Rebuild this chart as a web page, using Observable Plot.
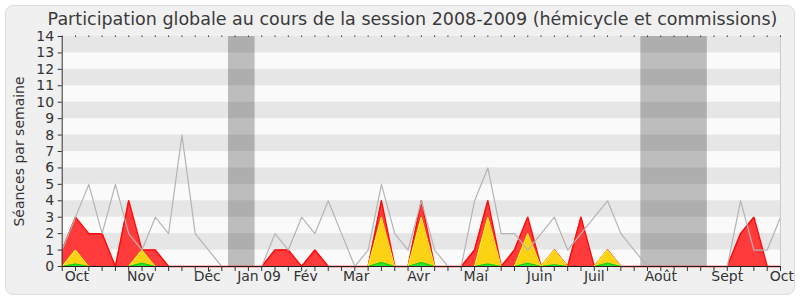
<!DOCTYPE html>
<html>
<head>
<meta charset="utf-8">
<script src="https://cdn.jsdelivr.net/npm/d3@7"></script>
<script src="https://cdn.jsdelivr.net/npm/@observablehq/plot@0.6"></script>
<style>
  html, body { margin: 0; padding: 0; background: #ffffff; }
  #wrap { position: relative; width: 800px; height: 300px; overflow: hidden; }
  #panel { position: absolute; left: 5px; top: 5px; width: 788px; height: 288px;
           background: #f0f0f0; border: 1px solid #dcdcdc; border-radius: 8px; }
  #title { position: absolute; left: 0; top: 0; width: 825px; height: 30px;
           text-align: center; font-family: "DejaVu Sans", sans-serif;
           font-size: 17.5px; line-height: 30px; color: #3a3a3a; padding-top: 4px; box-sizing: border-box; white-space: nowrap; }
  #chart { position: absolute; left: 0; top: 20px; }
  #chart svg { font-family: "DejaVu Sans", sans-serif; }
</style>
</head>
<body>
<div id="wrap">
  <div id="panel"></div>
  <div id="title">Participation globale au cours de la session 2008-2009 (hémicycle et commissions)</div>
  <div id="chart"></div>
</div>
<script>
// Weekly values, week 0 = first week of October 2008 ... week 54
const red    = [1,3,2,2,0,4,1,1,0,0,0,0,0,0,0,0,1,1,0,1,0,0,0,0,4,0,0,4,0,0,0,1,4,0,1,3,0,1,0,3,0,1,0,0,0,0,0,0,0,0,0,2,3,0,0];
const yellow = [0,1,0,0,0,0,1,0,0,0,0,0,0,0,0,0,0,0,0,0,0,0,0,0,3,0,0,3,0,0,0,0,3,0,0,2,0,1,0,0,0,1,0,0,0,0,0,0,0,0,0,0,0,0,0];
const green  = [0,0.15,0,0,0,0,0.2,0,0,0,0,0,0,0,0,0,0,0,0,0,0,0,0,0,0.25,0,0,0.25,0,0,0,0,0.15,0,0,0.2,0,0.1,0,0,0,0.2,0,0,0,0,0,0,0,0,0,0,0,0,0];
const median = [1,3,5,2,5,2,1,3,2,8,2,1,0,null,null,0,2,1,3,2,4,2,0,1,5,2,1,4,1,0,0,4,6,2,2,1,2,3,1,2,3,4,2,1,0,null,null,null,null,null,0,4,1,1,3];

// Vacation periods (in week units)
const vacStart = [12.5, 43.5];
const vacEnd   = [14.5, 48.5];

// Axis labels
const yTicks = [0,1,2,3,4,5,6,7,8,9,10,11,12,13,14];
const monthLabels = ["Oct","Nov","Déc","Jan 09","Fév","Mar","Avr","Mai","Juin","Juil","Août","Sept","Oct"];
const monthPos    = [1.1, 5.9, 10.9, 14.8, 18.3, 22.1, 26.8, 31.1, 35.9, 40.0, 45.0, 50.0, 54.1];

const weeks = red.map((_, i) => i);
const rows = weeks.map(i => ({i, red: red[i], yellow: yellow[i], green: green[i], median: median[i]}));
const stripes = yTicks.filter(k => k % 2 === 1).map(k => ({y1: k, y2: k + 1}));
const vacs = vacStart.map((s, k) => ({x1: s, x2: vacEnd[k]}));

const chart = Plot.plot({
  width: 800,
  height: 280,
  marginTop: 16,
  marginBottom: 34,
  marginLeft: 61.7,
  marginRight: 20,
  style: {background: "transparent", fontSize: "14px", color: "#333"},
  x: {domain: [0, weeks[weeks.length - 1]]},
  y: {domain: [0, 14]},
  marks: [
    Plot.frame({fill: "#fafafa", stroke: null}),
    Plot.rectY(stripes, {y1: "y1", y2: "y2", x1: 0, x2: weeks[weeks.length - 1], fill: "#e6e6e6", inset: 0}),
    Plot.rectY(vacs, {x1: "x1", x2: "x2", y1: 0, y2: 14, fill: "#000", fillOpacity: 0.245, inset: 0}),
    Plot.areaY(rows, {x: "i", y: "red", fill: "#ff3b3b"}),
    Plot.lineY(rows, {x: "i", y: "red", stroke: "#ff0d0d", strokeWidth: 1.5}),
    Plot.areaY(rows, {x: "i", y: "yellow", fill: "#fcd214"}),
    Plot.lineY(rows, {x: "i", y: "yellow", stroke: "#fff02a", strokeWidth: 1}),
    Plot.areaY(rows, {x: "i", y: "green", fill: "#2fe02f"}),
    Plot.lineY(rows, {x: "i", y: "green", stroke: "#10d010", strokeWidth: 1}),
    Plot.lineY(rows, {x: "i", y: "median", stroke: "#b4b4b4", strokeWidth: 1.2}),
    Plot.ruleX([weeks[weeks.length - 1]], {stroke: "#cccccc"}),
    Plot.ruleX([0], {stroke: "#333"}),
    Plot.ruleY([0], {stroke: "#2a1a1a", strokeWidth: 1.2}),
    Plot.axisY({ticks: yTicks, tickSize: 4, tickPadding: 4, label: null, fontSize: 14}),
    Plot.axisX({ticks: weeks, tickSize: 5, tickFormat: () => "", label: null}),
    Plot.axisX({anchor: "top", ticks: weeks, tickSize: 1.5, tickFormat: () => "", label: null}),
    Plot.text(monthPos, {x: d => d, text: (d, i) => monthLabels[i], frameAnchor: "bottom", lineAnchor: "top", dy: 5, fontSize: 14, fill: "#333"}),
    Plot.text(["Séances par semaine"], {frameAnchor: "left", textAnchor: "middle", rotate: -90, dx: -43, fontSize: 14, fill: "#333"})
  ]
});
document.getElementById("chart").appendChild(chart);
</script>
</body>
</html>
